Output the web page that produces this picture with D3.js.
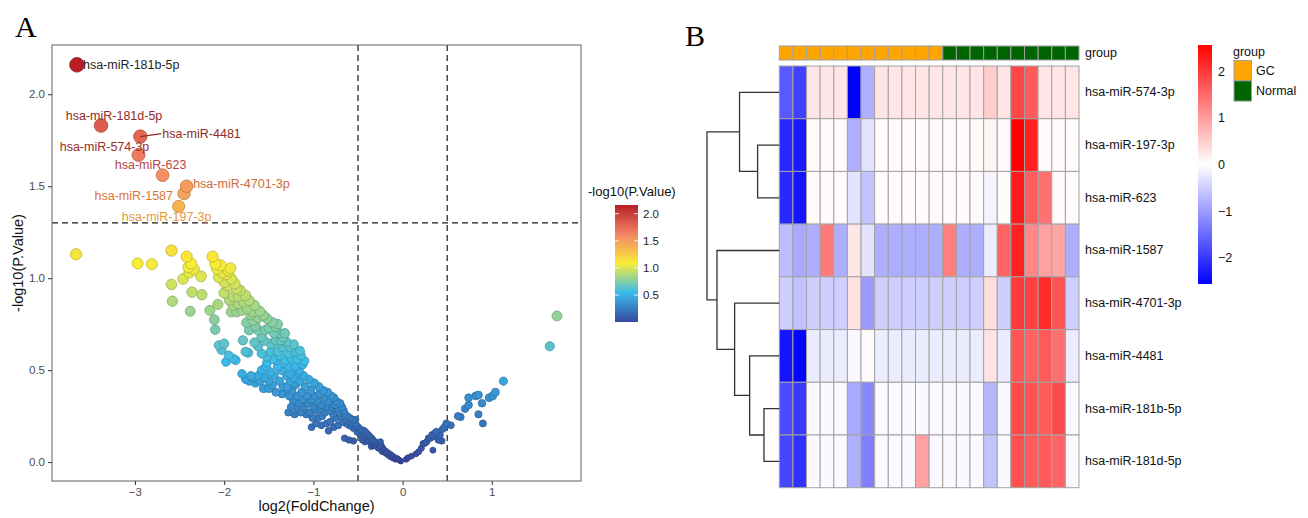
<!DOCTYPE html>
<html>
<head>
<meta charset="utf-8">
<script src="https://cdn.jsdelivr.net/npm/d3@7"></script>
<style>
  body { margin: 0; background: #fff; }
  text { font-family: "Liberation Sans", Arial, sans-serif; }
  .letter { font-family: "Liberation Serif", "Times New Roman", serif; font-size: 30px; }
</style>
</head>
<body>
<svg id="chart" width="1308" height="518"></svg>
<script>
// ---------------- panel A : volcano plot data ----------------
const labeledGenes = ["hsa-miR-181b-5p", "hsa-miR-181d-5p", "hsa-miR-4481", "hsa-miR-574-3p",
                      "hsa-miR-623", "hsa-miR-4701-3p", "hsa-miR-1587", "hsa-miR-197-3p"];
const labeledFC   = [-3.65, -3.38, -2.94, -2.96, -2.69, -2.42, -2.45, -2.51];
const labeledLogP = [2.16, 1.83, 1.77, 1.67, 1.56, 1.50, 1.46, 1.39];

// remaining miRNAs: [log2FC, -log10 P]
const otherPoints = [
  // far left / top yellow
  [-3.66,1.13],[-2.97,1.08],[-2.81,1.076],[-2.59,1.15],[-2.59,0.966],[-2.58,0.875],[-2.46,0.996],
  [-2.42,1.117],[-2.38,0.82],[-2.36,0.924],[-2.25,0.91],[-2.26,1.01],[-2.40,1.06],[-2.37,1.08],
  [-2.34,1.05],[-2.39,1.03],[-2.13,1.117],[-2.10,1.078],[-2.04,1.07],[-1.93,1.054],[-2.06,1.005],
  [-2.00,0.978],[-1.96,0.96],[-1.92,0.996],[-1.88,0.97],[-1.86,0.942],[-1.82,0.933],[-1.76,0.906],
  [-1.72,0.879],[-1.78,0.87],[-1.84,0.861],[-1.90,0.852],[-1.92,0.816],[-1.86,0.816],[-1.80,0.825],
  [-1.74,0.834],[-1.68,0.816],[-1.66,0.852],[-2.02,1.03],[-1.98,1.02],[-1.95,1.04],[-2.08,1.05],
  [-1.90,0.90],[-1.94,0.88],[-2.00,0.92],[-1.84,0.90],
  // green band
  [-2.16,0.825],[-2.07,0.857],[-2.11,0.774],[-2.10,0.72],[-1.75,0.758],[-1.72,0.717],[-1.68,0.77],
  [-1.62,0.785],[-1.56,0.798],[-1.52,0.78],[-1.46,0.76],[-1.42,0.735],[-1.38,0.70],[-1.62,0.717],
  [-1.58,0.68],[-1.54,0.717],[-1.48,0.644],[-1.42,0.662],[-1.36,0.662],[-1.50,0.73],[-1.44,0.70],
  [-1.65,0.74],[-1.70,0.80],[-1.60,0.82],[-1.34,0.68],[-1.32,0.70],[-1.40,0.75],
  // teal band
  [-2.06,0.635],[-2.00,0.644],[-2.03,0.61],[-1.98,0.545],[-1.90,0.563],[-1.87,0.554],[-1.95,0.58],
  [-1.79,0.662],[-1.76,0.60],[-1.73,0.594],[-1.58,0.59],[-1.52,0.572],[-1.42,0.554],[-1.34,0.626],
  [-1.30,0.653],[-1.26,0.626],[-1.20,0.60],[-1.15,0.605],[-1.62,0.63],[-1.48,0.60],[-1.45,0.64],
  [-1.40,0.60],[-1.36,0.66],[-1.28,0.59],[-1.22,0.64],[-1.66,0.65],[-1.55,0.66],
  // light blue band
  [-1.80,0.48],[-1.76,0.45],[-1.72,0.44],[-1.68,0.46],[-1.65,0.43],[-1.62,0.47],[-1.60,0.44],
  [-1.58,0.50],[-1.55,0.46],[-1.53,0.52],[-1.50,0.44],[-1.48,0.49],[-1.46,0.42],[-1.44,0.47],
  [-1.42,0.38],[-1.40,0.52],[-1.38,0.44],[-1.36,0.50],[-1.34,0.41],[-1.32,0.55],[-1.30,0.40],
  [-1.28,0.52],[-1.26,0.48],[-1.24,0.56],[-1.22,0.43],[-1.20,0.52],[-1.18,0.56],[-1.16,0.50],
  [-1.14,0.58],[-1.12,0.53],[-1.10,0.55],[-1.52,0.54],[-1.45,0.56],[-1.38,0.58],[-1.56,0.40],
  [-1.50,0.40],[-1.35,0.37],[-1.70,0.47],
  // blue band
  [-0.66,0.28],[-0.67,0.22],[-0.68,0.30],[-0.69,0.25],[-0.70,0.32],[-0.71,0.27],[-0.72,0.20],
  [-0.73,0.29],[-0.74,0.33],[-0.75,0.24],[-0.76,0.31],[-0.77,0.35],[-0.78,0.26],[-0.79,0.30],
  [-0.80,0.36],[-0.81,0.22],[-0.82,0.28],[-0.83,0.33],[-0.84,0.38],[-0.85,0.21],[-0.86,0.30],
  [-0.87,0.27],[-0.88,0.35],[-0.89,0.39],[-0.90,0.25],[-0.91,0.31],[-0.92,0.29],[-0.93,0.37],
  [-0.94,0.41],[-0.95,0.24],[-0.96,0.33],[-0.97,0.28],[-0.98,0.36],[-0.99,0.43],[-1.00,0.30],
  [-1.01,0.24],[-1.02,0.34],[-1.03,0.39],[-1.04,0.27],[-1.05,0.45],[-1.06,0.32],[-1.07,0.36],
  [-1.08,0.26],[-1.09,0.41],[-1.10,0.30],[-1.11,0.47],[-1.12,0.34],[-1.13,0.38],[-1.14,0.27],
  [-1.15,0.44],[-1.16,0.32],[-1.17,0.49],[-1.18,0.36],[-1.19,0.30],[-1.20,0.42],[-1.21,0.26],
  [-1.22,0.46],[-1.23,0.34],[-1.24,0.39],[-1.25,0.30],[-1.26,0.44],[-1.27,0.36],[-1.28,0.27],
  [-1.29,0.41],[-1.30,0.47],[-0.83,0.17],[-0.77,0.19],[-0.91,0.20],[-0.97,0.21],[-1.02,0.19],
  // near zero, left
  [-0.02,0.005],[-0.04,0.012],[-0.06,0.02],[-0.08,0.015],[-0.10,0.03],[-0.11,0.022],[-0.13,0.04],
  [-0.14,0.03],[-0.16,0.05],[-0.17,0.041],[-0.19,0.06],[-0.20,0.052],[-0.22,0.075],[-0.23,0.058],
  [-0.24,0.09],[-0.25,0.11],[-0.26,0.09],[-0.27,0.075],[-0.28,0.10],[-0.29,0.085],[-0.30,0.105],
  [-0.31,0.11],[-0.32,0.09],[-0.33,0.12],[-0.34,0.10],[-0.35,0.13],[-0.36,0.108],[-0.37,0.14],
  [-0.38,0.118],[-0.39,0.15],[-0.40,0.125],[-0.41,0.16],[-0.42,0.135],[-0.43,0.17],[-0.44,0.14],
  [-0.45,0.155],[-0.46,0.175],[-0.47,0.148],[-0.48,0.18],[-0.49,0.16],[-0.50,0.19],[-0.51,0.165],
  [-0.52,0.20],[-0.53,0.23],[-0.54,0.21],[-0.55,0.185],[-0.56,0.23],[-0.57,0.195],[-0.58,0.215],
  [-0.59,0.24],[-0.60,0.20],[-0.61,0.225],[-0.62,0.25],[-0.63,0.21],[-0.64,0.235],[-0.65,0.26],
  [-0.60,0.12],[-0.55,0.115],[-0.45,0.12],[-0.42,0.11],[-0.35,0.085],[-0.65,0.13],
  // right arm
  [0.04,0.015],[0.06,0.024],[0.10,0.033],[0.15,0.045],[0.18,0.056],[0.21,0.075],[0.23,0.10],
  [0.25,0.103],[0.27,0.11],[0.29,0.13],[0.31,0.13],[0.33,0.148],[0.34,0.138],[0.36,0.157],
  [0.38,0.166],[0.40,0.12],[0.42,0.147],[0.44,0.115],[0.45,0.18],[0.34,0.065],[0.47,0.19],
  [0.49,0.21],[0.54,0.20],[0.62,0.25],[0.65,0.245],[0.70,0.29],[0.74,0.31],[0.74,0.35],
  [0.82,0.36],[0.85,0.365],[0.85,0.26],[0.89,0.32],[0.90,0.21],[0.97,0.35],[1.01,0.36],
  [1.04,0.38],[1.13,0.44],[1.65,0.63],[1.73,0.795]
];

// ---------------- panel B : heatmap data ----------------
const heatRows = ["hsa-miR-574-3p", "hsa-miR-197-3p", "hsa-miR-623", "hsa-miR-1587",
                  "hsa-miR-4701-3p", "hsa-miR-4481", "hsa-miR-181b-5p", "hsa-miR-181d-5p"];
const sampleGroups = ["GC","GC","GC","GC","GC","GC","GC","GC","GC","GC","GC","GC",
                      "Normal","Normal","Normal","Normal","Normal","Normal","Normal","Normal","Normal","Normal"];
const heatValues = [
  [-1.66,-1.90,0.27,0.27,0.27,-2.55,-0.79,0.27,0.27,0.27,0.27,0.27,0.27,0.27,0.27,0.52,0.27,1.87,1.66,0.27,0.27,0.27],
  [-2.17,-2.30,0.05,0.05,0.05,-0.79,-0.27,0.05,0.05,0.05,0.05,0.05,0.05,0.05,0.05,0.12,0.05,2.57,2.25,0.05,0.05,0.05],
  [-2.15,-2.35,0.05,0.05,0.05,-0.27,-0.60,0.05,0.05,0.05,0.05,0.05,0.05,0.05,0.05,-0.10,0.05,2.30,1.65,1.45,0.05,0.05],
  [-0.66,-0.85,-0.80,1.34,-0.80,0.25,-0.27,-0.80,-0.80,-0.80,-0.80,-0.80,1.30,-0.80,-0.80,-0.18,1.57,2.25,1.20,0.95,0.90,-0.80],
  [-0.47,-0.60,-0.47,-0.47,-0.47,0.30,-1.00,-0.47,-0.47,-0.47,-0.47,-0.47,-0.47,-0.47,-0.47,0.35,-0.47,2.00,1.93,2.15,1.75,-0.47],
  [-2.35,-2.50,-0.18,-0.18,-0.18,-0.05,0.05,-0.18,-0.18,-0.18,-0.18,-0.18,-0.18,-0.18,-0.18,0.30,-0.18,1.72,1.60,1.66,1.45,-0.18],
  [-1.80,-1.97,-0.05,-0.05,-0.05,-0.85,-1.18,-0.05,-0.05,-0.05,-0.05,-0.05,-0.05,-0.05,-0.05,-0.72,-0.05,1.83,1.75,1.65,1.82,-0.05],
  [-1.85,-2.05,-0.05,-0.05,-0.05,-0.79,-1.28,-0.05,-0.05,-0.05,0.95,-0.05,-0.05,-0.05,-0.05,-0.59,-0.05,1.78,1.66,1.66,1.57,-0.05]
];
// row clustering, hclust style: negative = leaf (1-based row), positive = earlier merge
const rowMerge = [
  [-2, -3, 1.50],
  [-1, 1, 2.75],
  [-7, -8, 1.06],
  [-6, 3, 2.05],
  [-5, 4, 3.09],
  [-4, 5, 4.31],
  [2, 6, 5.00]
];
const groupNames = ["GC", "Normal"];
const groupColors = ["#FFA500", "#006400"];

const svg = d3.select("#chart");

// =============== panel A ===============
const boxA = { left: 52, right: 581, top: 45, bottom: 481 };

const points = otherPoints.map(d => ({ fc: d[0], p: d[1] }))
  .concat(labeledGenes.map((g, i) => ({ fc: labeledFC[i], p: labeledLogP[i], name: g })));

const fcExt = d3.extent(points, d => d.fc);
const pExt = d3.extent(points, d => d.p);
const fcPad = (fcExt[1] - fcExt[0]) * 0.05;
const pPad = (pExt[1] - pExt[0]) * 0.05;

const x = d3.scaleLinear([fcExt[0] - fcPad, fcExt[1] + fcPad], [boxA.left, boxA.right]);
const y = d3.scaleLinear([pExt[0] - pPad, pExt[1] + pPad], [boxA.bottom, boxA.top]);

const palette = ["#39489f", "#39bbec", "#f9ed36", "#f38466", "#b81f25"];
const stops = palette.map((c, i) => pExt[0] + (pExt[1] - pExt[0]) * i / (palette.length - 1));
const color = d3.scaleLinear(stops, palette).clamp(true);
const area = d3.scaleLinear(pExt, [2.8 * 2.8, 7.3 * 7.3]);
const radius = v => Math.sqrt(area(v));

const gA = svg.append("g");

// dashed thresholds
const dash = gA.append("g").attr("stroke", "#1a1a1a").attr("stroke-width", 1.2)
  .attr("stroke-dasharray", "6,4");
[-0.5, 0.5].forEach(v => dash.append("line")
  .attr("x1", x(v)).attr("x2", x(v)).attr("y1", boxA.top).attr("y2", boxA.bottom));
dash.append("line").attr("x1", boxA.left).attr("x2", boxA.right)
  .attr("y1", y(-Math.log10(0.05))).attr("y2", y(-Math.log10(0.05)));

// points, low values first
gA.append("g").selectAll("circle")
  .data(points.slice().sort((a, b) => a.p - b.p))
  .join("circle")
  .attr("cx", d => x(d.fc))
  .attr("cy", d => y(d.p))
  .attr("r", d => radius(d.p))
  .attr("fill", d => color(d.p))
  .attr("stroke", d => d3.color(color(d.p)).darker(0.7))
  .attr("stroke-width", 0.8);

// labels (repelled positions)
const labelNudge = [
  { dx: 6, dy: 0, anchor: "start" },
  { dx: 13, dy: -10, anchor: "middle" },
  { dx: 22, dy: -3, anchor: "start", seg: true },
  { dx: -34, dy: -8, anchor: "middle" },
  { dx: -12, dy: -10, anchor: "middle" },
  { dx: 6.5, dy: -2, anchor: "start" },
  { dx: -11, dy: 2, anchor: "end" },
  { dx: -12, dy: 11, anchor: "middle" }
];
const labelColors = ["#1f1f1f", "#8e2a25", "#8e2a25", "#9a2d28", "#b5473a", "#cf6a38", "#d9763a", "#e39a3c"];

labeledGenes.forEach((g, i) => {
  const px = x(labeledFC[i]), py = y(labeledLogP[i]), n = labelNudge[i];
  if (n.seg) {
    gA.append("line").attr("x1", px).attr("y1", py)
      .attr("x2", px + n.dx - 1).attr("y2", py + n.dy)
      .attr("stroke", labelColors[i]).attr("stroke-width", 1.2);
  }
  gA.append("text")
    .attr("x", px + n.dx).attr("y", py + n.dy)
    .attr("text-anchor", n.anchor)
    .attr("dominant-baseline", "central")
    .attr("font-size", 12.5)
    .attr("fill", labelColors[i])
    .text(g);
});

// panel border
gA.append("rect")
  .attr("x", boxA.left).attr("y", boxA.top)
  .attr("width", boxA.right - boxA.left).attr("height", boxA.bottom - boxA.top)
  .attr("fill", "none").attr("stroke", "#6e6e6e").attr("stroke-width", 1.1);

// axes
const xAxis = gA.append("g").attr("transform", `translate(0,${boxA.bottom})`)
  .call(d3.axisBottom(x).tickValues([-3, -2, -1, 0, 1]).tickFormat(d3.format("d"))
    .tickSize(4).tickPadding(3));
const yAxis = gA.append("g").attr("transform", `translate(${boxA.left},0)`)
  .call(d3.axisLeft(y).tickValues([0, 0.5, 1, 1.5, 2]).tickFormat(d3.format(".1f"))
    .tickSize(4).tickPadding(3));
[xAxis, yAxis].forEach(a => {
  a.select(".domain").remove();
  a.selectAll(".tick line").attr("stroke", "#333");
  a.selectAll(".tick text").attr("fill", "#4d4d4d").attr("font-size", 11.5)
    .style("font-family", "'Liberation Sans', Arial, sans-serif");
});

gA.append("text").attr("x", (boxA.left + boxA.right) / 2).attr("y", 511)
  .attr("text-anchor", "middle").attr("font-size", 14.5).attr("fill", "#111")
  .text("log2(FoldChange)");
gA.append("text")
  .attr("transform", `translate(18,${(boxA.top + boxA.bottom) / 2}) rotate(-90)`)
  .attr("text-anchor", "middle").attr("dominant-baseline", "central")
  .attr("font-size", 14.5).attr("fill", "#111")
  .text("-log10(P.Value)");

// colour bar legend
const cb = { x: 615, w: 23, top: 205, bottom: 322 };
const cbY = d3.scaleLinear(pExt, [cb.bottom, cb.top]);
const defs = svg.append("defs");
const gradA = defs.append("linearGradient").attr("id", "gradA")
  .attr("x1", 0).attr("y1", 1).attr("x2", 0).attr("y2", 0);
palette.forEach((c, i) => gradA.append("stop")
  .attr("offset", i / (palette.length - 1)).attr("stop-color", c));
gA.append("text").attr("x", 588).attr("y", 191).attr("dominant-baseline", "central")
  .attr("font-size", 13).attr("fill", "#111").text("-log10(P.Value)");
gA.append("rect").attr("x", cb.x).attr("y", cb.top)
  .attr("width", cb.w).attr("height", cb.bottom - cb.top).attr("fill", "url(#gradA)");
[0.5, 1, 1.5, 2].forEach(v => {
  gA.append("line").attr("x1", cb.x).attr("x2", cb.x + 4).attr("y1", cbY(v)).attr("y2", cbY(v))
    .attr("stroke", "#fff").attr("stroke-width", 0.8);
  gA.append("line").attr("x1", cb.x + cb.w - 4).attr("x2", cb.x + cb.w).attr("y1", cbY(v)).attr("y2", cbY(v))
    .attr("stroke", "#fff").attr("stroke-width", 0.8);
  gA.append("text").attr("x", cb.x + cb.w + 5).attr("y", cbY(v))
    .attr("dominant-baseline", "central").attr("font-size", 11.5).attr("fill", "#222")
    .text(d3.format(".1f")(v));
});

svg.append("text").attr("class", "letter").attr("x", 15).attr("y", 37).text("A");
svg.append("text").attr("class", "letter").attr("x", 685).attr("y", 46).text("B");

// =============== panel B ===============
const boxB = { left: 779.3, right: 1079, top: 66, bottom: 487.7, groupTop: 46, groupBottom: 60 };
const col = d3.scaleBand(d3.range(sampleGroups.length), [boxB.left, boxB.right]);
const row = d3.scaleBand(heatRows, [boxB.top, boxB.bottom]);

const allVals = heatValues.flat();
const hExt = d3.extent(allVals);
const heatColor = d3.scaleLinear([hExt[0], (hExt[0] + hExt[1]) / 2, hExt[1]], ["#0000FF", "#FFFFFF", "#FF0000"]);
const groupColor = d3.scaleOrdinal(groupNames, groupColors);

const gB = svg.append("g");

// column annotation bar
gB.append("g").selectAll("rect").data(sampleGroups).join("rect")
  .attr("x", (d, i) => col(i)).attr("y", boxB.groupTop)
  .attr("width", col.bandwidth()).attr("height", boxB.groupBottom - boxB.groupTop)
  .attr("fill", d => groupColor(d)).attr("stroke", "#a0a0a0").attr("stroke-width", 1);
gB.append("text").attr("x", boxB.right + 6).attr("y", (boxB.groupTop + boxB.groupBottom) / 2)
  .attr("dominant-baseline", "central").attr("font-size", 12.5).attr("fill", "#111").text("group");

// cells
const cells = [];
heatValues.forEach((r, ri) => r.forEach((v, ci) => cells.push({ row: heatRows[ri], c: ci, v })));
gB.append("g").selectAll("rect").data(cells).join("rect")
  .attr("x", d => col(d.c)).attr("y", d => row(d.row))
  .attr("width", col.bandwidth()).attr("height", row.bandwidth())
  .attr("fill", d => heatColor(d.v)).attr("stroke", "#a3a3a3").attr("stroke-width", 1);

gB.append("g").selectAll("text").data(heatRows).join("text")
  .attr("x", boxB.right + 6).attr("y", d => row(d) + row.bandwidth() / 2)
  .attr("dominant-baseline", "central").attr("font-size", 12.5).attr("fill", "#111")
  .text(d => d);

// row dendrogram
const maxH = d3.max(rowMerge, d => d[2]);
const dendX = d3.scaleLinear([0, maxH], [boxB.left, 707]);
const nodes = [];
const pos = c => c < 0
  ? { x: dendX(0), y: row(heatRows[-c - 1]) + row.bandwidth() / 2 }
  : nodes[c - 1];
const dend = gB.append("g").attr("fill", "none").attr("stroke", "#333").attr("stroke-width", 1.3);
rowMerge.forEach(([a, b, h]) => {
  const pa = pos(a), pb = pos(b), xh = dendX(h);
  dend.append("path").attr("d", `M${pa.x},${pa.y}H${xh}V${pb.y}H${pb.x}`);
  nodes.push({ x: xh, y: (pa.y + pb.y) / 2 });
});

// heat legend
const lg = { x: 1198, w: 14, top: 45, bottom: 284 };
const lgY = d3.scaleLinear(hExt, [lg.bottom, lg.top]);
const gradB = defs.append("linearGradient").attr("id", "gradB")
  .attr("x1", 0).attr("y1", 1).attr("x2", 0).attr("y2", 0);
d3.range(0, 1.0001, 0.05).forEach(t => gradB.append("stop")
  .attr("offset", t).attr("stop-color", heatColor(hExt[0] + t * (hExt[1] - hExt[0]))));
gB.append("rect").attr("x", lg.x).attr("y", lg.top).attr("width", lg.w)
  .attr("height", lg.bottom - lg.top).attr("fill", "url(#gradB)");
[-2, -1, 0, 1, 2].forEach(v => gB.append("text")
  .attr("x", lg.x + lg.w + 6).attr("y", lgY(v)).attr("dominant-baseline", "central")
  .attr("font-size", 12.5).attr("fill", "#111").text(d3.format("d")(v)));

// group legend
gB.append("text").attr("x", 1233).attr("y", 52).attr("dominant-baseline", "central")
  .attr("font-size", 12.5).attr("fill", "#111").text("group");
groupNames.forEach((g, i) => {
  gB.append("rect").attr("x", 1234).attr("y", 60.5 + i * 20.3).attr("width", 17.5).attr("height", 20.3)
    .attr("fill", groupColor(g)).attr("stroke", "#a0a0a0").attr("stroke-width", 1);
  gB.append("text").attr("x", 1256).attr("y", 70.6 + i * 20.3).attr("dominant-baseline", "central")
    .attr("font-size", 12.5).attr("fill", "#111").text(g);
});
</script>
</body>
</html>
